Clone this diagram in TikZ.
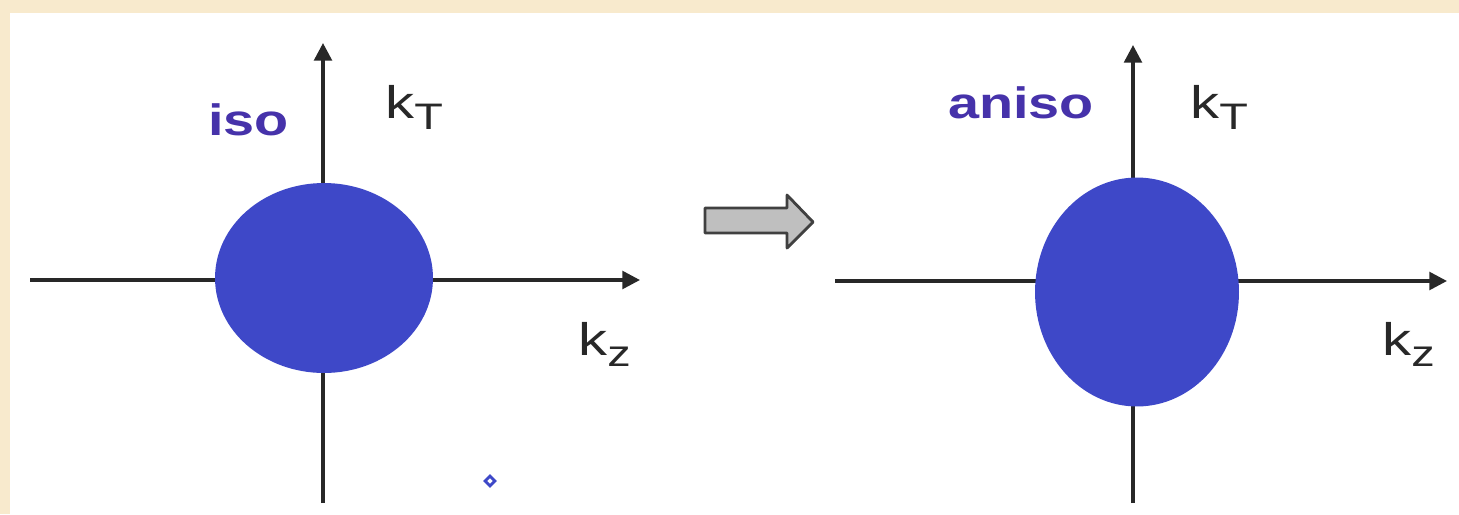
\documentclass[tikz,border=0pt]{standalone}
\usepackage{graphicx}
\usepackage{fontspec}
\setmainfont{Liberation Sans}
\usetikzlibrary{arrows.meta,positioning,shapes.geometric}
\definecolor{parchment}{RGB}{248,234,205}
\definecolor{blobblue}{RGB}{62,72,200}
\definecolor{tagblue}{RGB}{70,50,170}
\definecolor{axisgray}{RGB}{40,40,40}
\tikzstyle{axis} = [line width=2pt, draw=axisgray, -{Triangle[length=10pt,width=10pt]}]
\tikzstyle{blob} = [ellipse, fill=blobblue, inner sep=0pt]
\tikzstyle{klabel} = [font=\fontsize{26}{30}\selectfont, text=axisgray, inner sep=0pt, anchor=base west]
\tikzstyle{tag} = [font=\bfseries\fontsize{25}{30}\selectfont, text=tagblue, inner sep=0pt, anchor=base west]
\newcommand{\wide}[1]{\scalebox{1.27}[1]{#1}}
\newcommand{\ksub}[1]{\wide{k\raisebox{-0.26em}{\fontsize{21}{24}\selectfont #1}}}

\begin{document}
\begin{tikzpicture}[x=0.02cm, y=-0.02cm]
    \useasboundingbox (0,0) rectangle (1459,514);
    \fill[parchment] (0,0) rectangle (1459,514);
    \fill[white] (10,13) rectangle (1459,514);
    % left: isotropic
    \coordinate (isoW) at (30,280);
    \coordinate (isoE) at (640,280);
    \coordinate (isoS) at (323,503);
    \coordinate (isoN) at (323,43);
    \draw[axis] (isoW) -- (isoE);
    \draw[axis] (isoS) -- (isoN);
    \node[blob, minimum width=4.36cm, minimum height=3.8cm] (isoblob) at (324,278) {};
    \node[tag] (isotag) at (208,135) {\wide{iso}};
    \node[klabel] (isokT) at (385,118) {\ksub{T}};
    \node[klabel] (isokz) at (578,355) {\ksub{z}};
    \node[diamond, draw=blobblue, line width=1.6pt, minimum size=0.22cm, inner sep=0pt] (dot) at (490,481) {};
    % block arrow
    \draw[fill=black!25, draw=black!75, line width=1.6pt, line join=round]
        (705,208) -- (787,208) -- (787,195) -- (813,222) -- (787,248) -- (787,233) -- (705,233) -- cycle;
    % right: anisotropic
    \coordinate (anisoW) at (835,281);
    \coordinate (anisoE) at (1447,281);
    \coordinate (anisoS) at (1133,503);
    \coordinate (anisoN) at (1133,45);
    \draw[axis] (anisoW) -- (anisoE);
    \draw[axis] (anisoS) -- (anisoN);
    \node[blob, minimum width=4.08cm, minimum height=4.58cm] (anisoblob) at (1137,292) {};
    \node[tag] (anisotag) at (948,118) {\wide{aniso}};
    \node[klabel] (anisokT) at (1190,118) {\ksub{T}};
    \node[klabel] (anisokz) at (1382,355) {\ksub{z}};
\end{tikzpicture}
\end{document}
